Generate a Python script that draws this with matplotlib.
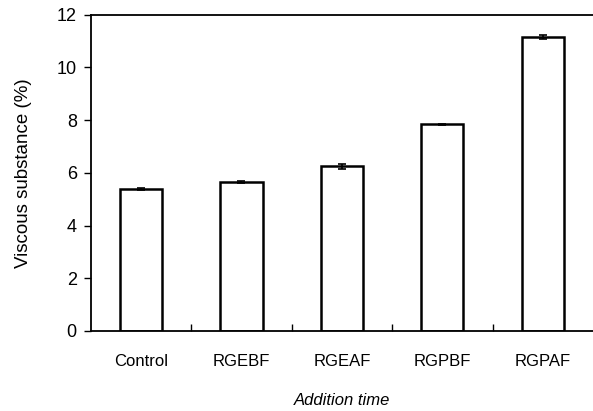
#!/usr/bin/env python3
# -*- coding=utf-8 -*-
import numpy as np
from matplotlib import pyplot as plt

# 数据
categories = ['Control', 'RGEBF', 'RGEAF', 'RGPBF', 'RGPAF']
values = [5.37, 5.65, 6.25, 7.84, 11.16]
errors = [0.04, 0.03, 0.09, 0.03, 0.06]

plt.rcParams['font.family'] = ['Liberation Sans', 'DejaVu Sans']

fig = plt.figure(figsize=(5.93, 4.11), dpi=100)
ax = fig.add_axes([0.153, 0.195, 0.847, 0.769])

x = np.arange(len(categories))
ax.bar(x, values, width=0.42, color='white', edgecolor='black', linewidth=1.8,
       yerr=errors, capsize=3, error_kw={'elinewidth': 1.2, 'capthick': 1.2})

ax.set_xlim(-0.5, 4.5)
ax.set_ylim(0, 12)
ax.set_yticks(range(0, 13, 2))

# x轴刻度在类别之间，朝内
ax.set_xticks(x)
ax.set_xticklabels(categories, fontsize=12)
ax.set_xticks(np.arange(0.5, 4.5, 1), minor=True)
ax.tick_params(axis='x', which='major', length=0, pad=17)
ax.tick_params(axis='x', which='minor', direction='in', length=5, width=1)
ax.tick_params(axis='y', direction='out', length=5, width=1, labelsize=13, pad=5)

ax.spines['right'].set_visible(False)
for s in ['left', 'bottom', 'top']:
    ax.spines[s].set_linewidth(1.3)

ax.set_ylabel('Viscous substance (%)', fontsize=13.5, labelpad=18)
ax.set_xlabel('Addition time', fontsize=12, style='italic', labelpad=17)

plt.savefig('out.png', dpi=100)
